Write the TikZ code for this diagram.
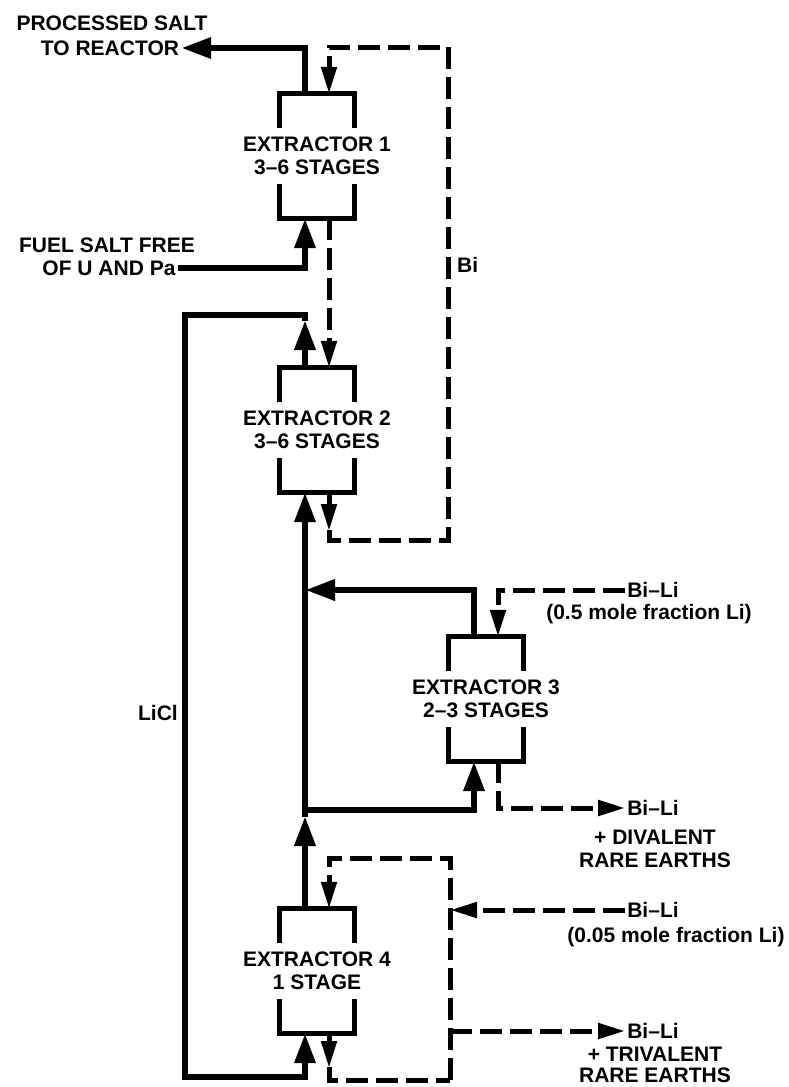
\documentclass[tikz,border=0pt]{standalone}
\usepackage{fontspec}
\setmainfont{Liberation Sans}
\usetikzlibrary{arrows.meta}

\tikzset{
  every node/.style={font=\bfseries\fontsize{21}{23}\selectfont, inner sep=2pt},
  extbox/.style={rectangle, minimum width=74pt, minimum height=124pt, inner sep=0pt},
  boxline/.style={line width=5pt},
  solidline/.style={line width=6.5pt},
  dashline/.style={line width=5pt, dash pattern=on 22pt off 8pt, >={Triangle[length=27pt,width=15pt]}},
}

\begin{document}
\begin{tikzpicture}[x=1pt, y=-1pt, >={Triangle[length=30pt,width=20pt]}, line join=miter]
\useasboundingbox (0,0) rectangle (788,1087);

% extractors
\node[extbox] (ext1) at (317,156) {};
\node[extbox] (ext2) at (317,430) {};
\node[extbox] (ext3) at (486,699) {};
\node[extbox] (ext4) at (317,971) {};
\node[align=center] (ext1t) at (ext1) {EXTRACTOR 1\\3–6 STAGES};
\node[align=center] (ext2t) at (ext2) {EXTRACTOR 2\\3–6 STAGES};
\node[align=center] (ext3t) at (ext3) {EXTRACTOR 3\\2–3 STAGES};
\node[align=center] (ext4t) at (ext4) {EXTRACTOR 4\\1 STAGE};
\foreach \e in {ext1,ext2,ext3,ext4}{
  \draw[boxline] ([yshift=-34pt]\e.north west) |- (\e.north east) -- ([yshift=-34pt]\e.north east);
  \draw[boxline] ([yshift=34pt]\e.south west) |- (\e.south east) -- ([yshift=34pt]\e.south east);
}

% labels
\node (salt1) at (112,23) {PROCESSED SALT};
\node (salt2) at (110,48) {TO REACTOR};
\node (fuel1) at (107,245) {FUEL SALT FREE};
\node (fuel2) at (109,268) {OF U AND Pa};
\node[anchor=west] (bi) at (455,265) {Bi};
\node[anchor=east] (licl) at (180,713) {LiCl};
\node (feedA) at (653,590) {Bi–Li};
\node (feedAt) at (649,614) {(0.5 mole fraction Li)};
\node (prodA) at (653,808) {Bi–Li};
\node[align=center] (prodAt) at (655,849) {+ DIVALENT\\RARE EARTHS};
\node (feedB) at (653,910) {Bi–Li};
\node (feedBt) at (676,937) {(0.05 mole fraction Li)};
\node (prodB) at (653,1031) {Bi–Li};
\node[align=center, font=\bfseries\fontsize{21}{21}\selectfont] (prodBt) at (655,1065) {+ TRIVALENT\\RARE EARTHS};

% corners
\coordinate (biBL) at (329,540);
\coordinate (biBR) at (448,540);
\coordinate (biTR) at (448,47);
\coordinate (liclTR) at (305,315);
\coordinate (liclTL) at (185,315);
\coordinate (liclBL) at (185,1077);
\coordinate (jT) at (305,590);
\coordinate (jB) at (305,810);
\coordinate (loopTR) at (450,858);
\coordinate (loopBR) at (450,1080);
\coordinate (loopBL) at (329,1080);
\coordinate (loopIn) at (450,910);
\coordinate (loopOut) at (450,1031);

% salt
\draw[solidline,->] ([xshift=-12pt]ext1.north) |- (salt2.east);
\draw[solidline,->] (fuel2.east) -| ([xshift=-12pt]ext1.south);
\draw[solidline,->,shorten >=5pt] ([xshift=-12pt]ext2.north) -- (liclTR);
\draw[solidline,->] ([yshift=-6pt]liclTR) -- (liclTR) -- (liclTL) -- (liclBL) -| ([xshift=-12pt]ext4.south);
\draw[solidline,->,shorten >=6pt] ([xshift=-12pt]ext4.north) -- (jB);
\draw[solidline,->] ([yshift=-7pt]jB) -- ([xshift=-12pt]ext2.south);
\draw[solidline,->] (jB) -| ([xshift=-12pt]ext3.south);
\draw[solidline,->] ([xshift=-12pt]ext3.north) |- (jT);

% bismuth
\draw[dashline,->] ([xshift=12pt]ext1.south) -- ([xshift=12pt]ext2.north);
\draw[dashline,->,shorten >=9pt] ([xshift=12pt]ext2.south) -- (biBL);
\draw[dashline,->] ([yshift=10pt]biBL) -- (biBL) -- (biBR) -- (biTR) -| ([xshift=12pt]ext1.north);
\draw[dashline,->] (feedA.west) -| ([xshift=12pt]ext3.north);
\draw[dashline,->] ([xshift=12pt]ext3.south) |- (prodA.west);
\draw[dashline,->] (loopBR) -- (loopTR) -| ([xshift=12pt]ext4.north);
\draw[dashline,->,shorten >=12pt] ([xshift=12pt]ext4.south) -- (loopBL);
\draw[dashline] ([yshift=13pt]loopBL) -- (loopBL) -- (loopBR);
\draw[dashline,->] (feedB.west) -- (loopIn);
\draw[dashline,->] (loopOut) -- (prodB.west);
\end{tikzpicture}
\end{document}
